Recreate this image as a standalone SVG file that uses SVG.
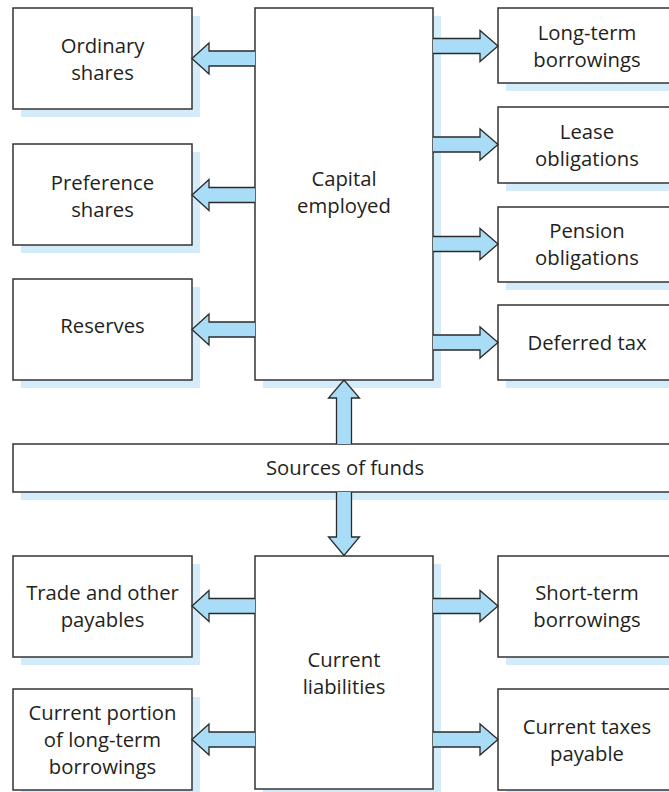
<svg xmlns="http://www.w3.org/2000/svg" width="669" height="792" viewBox="0 0 669 792">
  <style>
    .shadow { fill: #d4ecfa; }
    .box { fill: #ffffff; stroke: #333333; stroke-width: 1.5; }
    .arrow { fill: #a9dcf6; stroke: #2a2a2a; stroke-width: 1.3; stroke-linejoin: miter; }
    .label { font-family: "Open Sans", "Noto Sans", "Liberation Sans", sans-serif; font-size: 20.3px; fill: #231f20; text-anchor: middle; }
  </style>
  <rect width="669" height="792" fill="#ffffff"/>

  <!-- Left column: equity sources -->
  <g id="ordinary-shares">
    <rect class="shadow" x="21" y="16" width="179" height="101"/>
    <rect class="box" x="13" y="8" width="179" height="101"/>
    <text class="label" x="102.5" y="53">Ordinary</text>
    <text class="label" x="102.5" y="80">shares</text>
  </g>
  <g id="preference-shares">
    <rect class="shadow" x="21" y="152" width="179" height="101"/>
    <rect class="box" x="13" y="144" width="179" height="101"/>
    <text class="label" x="102.5" y="190">Preference</text>
    <text class="label" x="102.5" y="217">shares</text>
  </g>
  <g id="reserves">
    <rect class="shadow" x="21" y="287" width="179" height="101"/>
    <rect class="box" x="13" y="279" width="179" height="101"/>
    <text class="label" x="102.5" y="333">Reserves</text>
  </g>

  <!-- Central block: capital employed -->
  <g id="capital-employed">
    <rect class="shadow" x="263" y="16" width="178" height="372"/>
    <rect class="box" x="255" y="8" width="178" height="372"/>
    <text class="label" x="344" y="186">Capital</text>
    <text class="label" x="344" y="213">employed</text>
  </g>

  <!-- Right column: non-current liabilities -->
  <g id="long-term-borrowings">
    <rect class="shadow" x="506" y="16" width="179" height="75"/>
    <rect class="box" x="498" y="8" width="179" height="75"/>
    <text class="label" x="587" y="40">Long-term</text>
    <text class="label" x="587" y="67">borrowings</text>
  </g>
  <g id="lease-obligations">
    <rect class="shadow" x="506" y="115" width="179" height="76"/>
    <rect class="box" x="498" y="107" width="179" height="76"/>
    <text class="label" x="587" y="139">Lease</text>
    <text class="label" x="587" y="166">obligations</text>
  </g>
  <g id="pension-obligations">
    <rect class="shadow" x="506" y="215" width="179" height="75"/>
    <rect class="box" x="498" y="207" width="179" height="75"/>
    <text class="label" x="587" y="238">Pension</text>
    <text class="label" x="587" y="265">obligations</text>
  </g>
  <g id="deferred-tax">
    <rect class="shadow" x="506" y="313" width="179" height="75"/>
    <rect class="box" x="498" y="305" width="179" height="75"/>
    <text class="label" x="587" y="350">Deferred tax</text>
  </g>

  <!-- Full-width band -->
  <g id="sources-of-funds">
    <rect class="shadow" x="21" y="452" width="670" height="48"/>
    <rect class="box" x="13" y="444" width="670" height="48"/>
    <text class="label" x="345" y="475">Sources of funds</text>
  </g>

  <!-- Lower section: current liabilities -->
  <g id="trade-payables">
    <rect class="shadow" x="21" y="564" width="179" height="101"/>
    <rect class="box" x="13" y="556" width="179" height="101"/>
    <text class="label" x="102.5" y="600">Trade and other</text>
    <text class="label" x="102.5" y="627">payables</text>
  </g>
  <g id="current-portion">
    <rect class="shadow" x="21" y="697" width="179" height="101"/>
    <rect class="box" x="13" y="689" width="179" height="101"/>
    <text class="label" x="102.5" y="720">Current portion</text>
    <text class="label" x="102.5" y="747">of long-term</text>
    <text class="label" x="102.5" y="774">borrowings</text>
  </g>
  <g id="current-liabilities">
    <rect class="shadow" x="263" y="564" width="178" height="233"/>
    <rect class="box" x="255" y="556" width="178" height="233"/>
    <text class="label" x="344" y="667">Current</text>
    <text class="label" x="344" y="694">liabilities</text>
  </g>
  <g id="short-term-borrowings">
    <rect class="shadow" x="506" y="564" width="179" height="101"/>
    <rect class="box" x="498" y="556" width="179" height="101"/>
    <text class="label" x="587" y="600">Short-term</text>
    <text class="label" x="587" y="627">borrowings</text>
  </g>
  <g id="current-taxes">
    <rect class="shadow" x="506" y="697" width="179" height="101"/>
    <rect class="box" x="498" y="689" width="179" height="101"/>
    <text class="label" x="587" y="734">Current taxes</text>
    <text class="label" x="587" y="761">payable</text>
  </g>

  <!-- Block arrows; the open end of each shaft sits on a box edge -->
  <g id="connectors">
    <!-- capital employed to equity boxes (pointing left) -->
    <path class="arrow" d="M255,51 H209 V43 L192,58.5 L209,74 V66 H255"/>
    <path class="arrow" d="M255,187.5 H209 V179.5 L192,195 L209,210.5 V202.5 H255"/>
    <path class="arrow" d="M255,322 H209 V314 L192,329.5 L209,345 V337 H255"/>
    <!-- capital employed to non-current liabilities (pointing right) -->
    <path class="arrow" d="M433,38.5 H480 V30.5 L498,46 L480,61.5 V53.5 H433"/>
    <path class="arrow" d="M433,137 H480 V129 L498,144.5 L480,160 V152 H433"/>
    <path class="arrow" d="M433,236.5 H480 V228.5 L498,244 L480,259.5 V251.5 H433"/>
    <path class="arrow" d="M433,335 H480 V327 L498,342.5 L480,358 V350 H433"/>
    <!-- sources of funds up to capital employed -->
    <path class="arrow" d="M336.5,444 V398 H328.5 L344,380 L359.5,398 H351.5 V444"/>
    <!-- sources of funds down to current liabilities -->
    <path class="arrow" d="M336.5,492 V537 H328.5 L344,555.5 L359.5,537 H351.5 V492"/>
    <!-- current liabilities to left boxes -->
    <path class="arrow" d="M255,598.5 H209 V590.5 L192,606 L209,621.5 V613.5 H255"/>
    <path class="arrow" d="M255,732 H209 V724 L192,739.5 L209,755 V747 H255"/>
    <!-- current liabilities to right boxes -->
    <path class="arrow" d="M433,598.5 H480 V590.5 L498,606 L480,621.5 V613.5 H433"/>
    <path class="arrow" d="M433,732 H480 V724 L498,739.5 L480,755 V747 H433"/>
  </g>
</svg>
